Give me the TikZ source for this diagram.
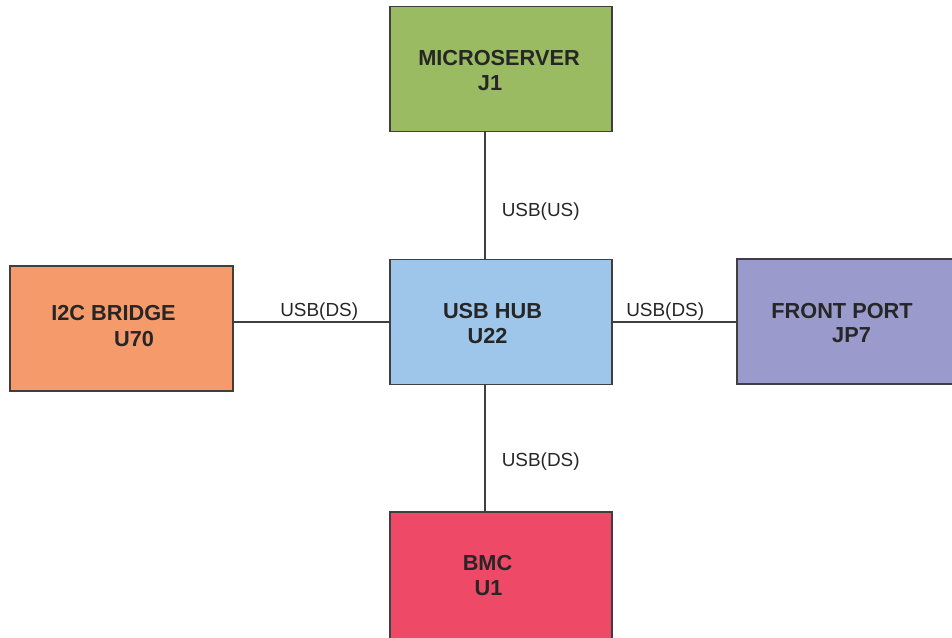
\documentclass[tikz,border=0pt]{standalone}
\usepackage{fontspec}
\setmainfont{Liberation Sans}
\definecolor{msgreen}{HTML}{9BBB62}
\definecolor{hubblue}{HTML}{9DC6EA}
\definecolor{i2corange}{HTML}{F59A6B}
\definecolor{portpurple}{HTML}{9A9ACD}
\definecolor{bmcred}{HTML}{EE4A67}
\definecolor{edgegray}{HTML}{3F3F3F}
\definecolor{inkdark}{HTML}{262626}
\tikzset{
  block/.style={draw=edgegray, line width=1.1pt, rectangle, inner sep=0pt,
    minimum width=166.5pt, minimum height=93.75pt},
  title/.style={anchor=base, inner sep=0pt, text=inkdark,
    font=\fontsize{16.3}{19}\selectfont\bfseries},
  buslabel/.style={anchor=base west, inner sep=0pt, text=inkdark,
    font=\fontsize{14.2}{17}\selectfont},
  bus/.style={draw=edgegray, line width=1.1pt}
}
\begin{document}
\begin{tikzpicture}[x=0.75pt, y=-0.75pt]
  \useasboundingbox (0,0) rectangle (952,637);
  \clip (0,0) rectangle (952,637);

  % blocks (the port and BMC blocks run past the page edge)
  \node[block, fill=msgreen]    (ms)   at (501,69)    {};
  \node[block, fill=hubblue]    (hub)  at (501,322)   {};
  \node[block, fill=i2corange, minimum width=167.25pt] (i2c) at (121.5,328.5) {};
  \node[block, fill=portpurple, minimum width=167.25pt] (port) at (848.5,321.5) {};
  \node[block, fill=bmcred, minimum height=102pt] (bmc) at (501,580) {};

  % block titles
  \node[title] (msa)   at (499,65)    {MICROSERVER};
  \node[title] (msb)   at (490,90.5)  {J1};
  \node[title] (huba)  at (492.5,318) {USB HUB};
  \node[title] (hubb)  at (487.5,343) {U22};
  \node[title] (i2ca)  at (113.5,320) {I2C BRIDGE};
  \node[title] (i2cb)  at (134,346.5) {U70};
  \node[title] (porta) at (842,318)   {FRONT PORT};
  \node[title] (portb) at (851.5,342.5) {JP7};
  \node[title] (bmca)  at (487.5,570.5) {BMC};
  \node[title] (bmcb)  at (488.5,595.5) {U1};

  % bus connections
  \coordinate (vx) at (485,0);
  \draw[bus] (ms.south -| vx) -- (hub.north -| vx);
  \draw[bus] (hub.south -| vx) -- (bmc.north -| vx);
  \draw[bus] (i2c.east |- hub.center) -- (hub.west);
  \draw[bus] (hub.east) -- (port.west |- hub.center);

  % bus labels
  \node[buslabel] (lus)  at (501.5,216) {USB(US)};
  \node[buslabel] (lds)  at (501.5,466) {USB(DS)};
  \node[buslabel] (lleft)  at (280,316) {USB(DS)};
  \node[buslabel] (lright) at (626,316.5) {USB(DS)};
\end{tikzpicture}
\end{document}
